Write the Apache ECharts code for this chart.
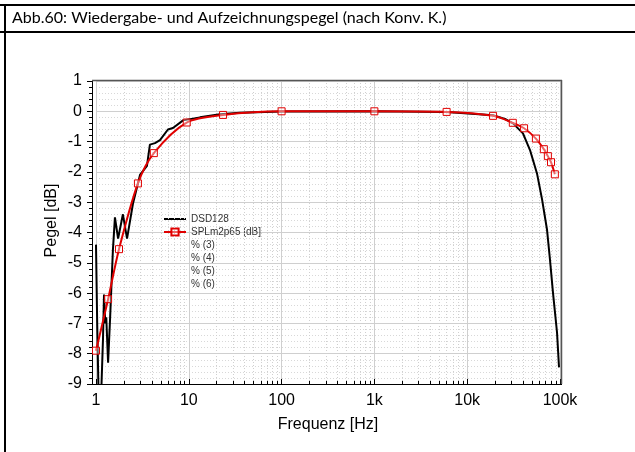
<!DOCTYPE html>
<html><head><meta charset="utf-8">
<script src="https://cdn.jsdelivr.net/npm/echarts@6/dist/echarts.min.js"></script>
<style>html,body{margin:0;padding:0;background:#fff}#c{width:635px;height:452px}</style>
</head><body><div id="c"></div>
<script>
const chartTitle = 'Abb.60: Wiedergabe- und Aufzeichnungspegel (nach Konv. K.)';
const seriesNames = ['DSD128', 'SPLm2p65 [dB]', '% (3)', '% (4)', '% (5)', '% (6)'];
const xTickValues = [1, 10, 100, 1000, 10000, 100000];
const xTickLabels = ['1', '10', '100', '1k', '10k', '100k'];
const minorMultipliers = [2, 3, 4, 5, 6, 7, 8, 9];

const dsdFreq = [1.0, 1.03, 1.07, 1.13, 1.19, 1.22, 1.26, 1.29, 1.35, 1.42, 1.52, 1.60, 1.73, 1.95, 2.16, 2.5, 2.98, 3.54, 3.81, 4.32, 4.89, 5.96, 6.75, 8.67, 13.2, 21.7, 35.6, 100, 1000, 6000, 19000, 25500, 31200, 39900, 47500, 56500, 64000, 72400, 78000, 84100, 92900, 97600];
const dsdLevel = [-4.4, -7.0, -9.6, -9.6, -7.5, -6.05, -7.0, -6.8, -8.3, -6.8, -4.6, -3.5, -4.2, -3.4, -4.2, -3.05, -2.1, -1.8, -1.1, -1.05, -0.95, -0.6, -0.55, -0.3, -0.2, -0.1, -0.05, -0.01, 0, -0.02, -0.13, -0.25, -0.4, -0.73, -1.28, -2.05, -2.9, -3.9, -4.9, -6.0, -7.3, -8.45];

const splFreq = [1, 1.35, 1.77, 2.83, 4.2, 9.5, 23.4, 100, 1000, 6000, 19000, 31000, 41000, 55000, 67000, 74000, 80000, 88000];
const splLevel = [-7.9, -6.2, -4.55, -2.38, -1.38, -0.37, -0.12, 0, 0, -0.02, -0.15, -0.38, -0.56, -0.9, -1.25, -1.48, -1.68, -2.08];

const chart = echarts.init(document.getElementById('c'), null, {renderer: 'canvas'});

const minorX = [];
for (let d = 0; d < 5; d++) {
  for (const m of minorMultipliers) minorX.push(m * Math.pow(10, d));
}
const font = '"Liberation Sans", Arial, sans-serif';

const option = {
  backgroundColor: '#fff',
  animation: false,
  grid: {left: 96, right: 75, top: 81, bottom: 68, containLabel: false},
  xAxis: {
    type: 'log', logBase: 10, min: 1, max: 100000,
    name: 'Frequenz [Hz]', nameLocation: 'middle', nameGap: 33, nameMoveOverlap: false,
    nameTextStyle: {fontFamily: font, fontSize: 16, color: '#000'},
    axisLine: {show: true, onZero: false, lineStyle: {color: '#000', width: 1}},
    axisTick: {show: true, inside: true, length: 5, lineStyle: {color: '#000'}},
    axisLabel: {fontFamily: font, fontSize: 16, color: '#000', margin: 9,
      formatter: v => { const i = xTickValues.indexOf(Math.round(v)); return i >= 0 ? xTickLabels[i] : ''; }},
    splitLine: {show: true, lineStyle: {color: '#cfcfcf', width: 1}}
  },
  yAxis: {
    type: 'value', min: -9, max: 1, interval: 1, offset: 4,
    name: 'Pegel [dB]', nameLocation: 'middle', nameGap: 32, nameMoveOverlap: false,
    nameTextStyle: {fontFamily: font, fontSize: 16, color: '#000', padding: [0, 0, 0, 24]},
    axisLine: {show: true, onZero: false, lineStyle: {color: '#000', width: 1}},
    axisTick: {show: true, length: 5, lineStyle: {color: '#000'}},
    minorTick: {show: true, splitNumber: 5, length: 3, lineStyle: {color: '#000'}},
    axisLabel: {fontFamily: font, fontSize: 16, color: '#000', margin: 10},
    splitLine: {show: true, lineStyle: {color: '#cfcfcf', width: 1}},
    minorSplitLine: {show: true, lineStyle: {color: '#d8d8d8', width: 1, type: [1, 2]}}
  },
  legend: {
    orient: 'vertical', left: 163, top: 214, padding: 0,
    itemWidth: 22, itemHeight: 9, itemGap: 3,
    textStyle: {fontFamily: font, fontSize: 10, lineHeight: 10, color: '#333'},
    data: seriesNames.map((n, i) => i === 0 ? {name: n, itemStyle: {opacity: 0}, lineStyle: {color: '#000', width: 2, opacity: 1}} :
      i === 1 ? {name: n} :
      {name: n, itemStyle: {opacity: 0}, lineStyle: {opacity: 0}})
  },
  series: [
    {
      name: '_minorgrid', type: 'line', data: [], z: 0, silent: true,
      markLine: {silent: true, symbol: 'none', label: {show: false},
        lineStyle: {color: '#d0d0d0', width: 1, type: [1, 2]},
        data: minorX.map(v => ({xAxis: v}))}
    },
    {
      name: '_minorticks', type: 'line', data: [], z: 3, silent: true,
      markLine: {silent: true, symbol: 'none', label: {show: false},
        lineStyle: {color: '#000', width: 1, type: 'solid'},
        data: minorX.map(v => [{coord: [v, -9]}, {coord: [v, -8.9]}])}
    },
    {
      name: seriesNames[0], type: 'line', showSymbol: false, symbol: 'none',
      data: dsdFreq.map((f, i) => [f, dsdLevel[i]]),
      lineStyle: {color: '#000', width: 2}, itemStyle: {color: '#000'}, z: 5
    },
    {
      name: seriesNames[1], type: 'line', symbol: 'rect', symbolSize: 7, smooth: 0.3,
      data: splFreq.map((f, i) => [f, splLevel[i]]),
      lineStyle: {color: '#e00000', width: 2},
      itemStyle: {color: 'rgba(255,255,255,0.4)', borderColor: '#e00000', borderWidth: 1}, z: 6
    },
    ...seriesNames.slice(2).map(n => ({name: n, type: 'line', data: [], symbol: 'none',
      lineStyle: {opacity: 0}, itemStyle: {opacity: 0}}))
  ],
  graphic: [
    {type: 'line', shape: {x1: 0, y1: 5, x2: 635, y2: 5}, style: {stroke: '#000', lineWidth: 2}},
    {type: 'line', shape: {x1: 0, y1: 32, x2: 635, y2: 32}, style: {stroke: '#000', lineWidth: 2}},
    {type: 'line', shape: {x1: 5, y1: 4, x2: 5, y2: 452}, style: {stroke: '#000', lineWidth: 2}},
    {type: 'text', left: 12, top: 10, style: {text: chartTitle, font: '16px Lato, "Open Sans", sans-serif', fill: '#000'}},
    {type: 'line', shape: {x1: 92, y1: 80.5, x2: 562, y2: 80.5}, style: {stroke: '#555', lineWidth: 1.5}, z: 10},
    {type: 'line', shape: {x1: 561.5, y1: 80, x2: 561.5, y2: 384}, style: {stroke: '#555', lineWidth: 1.5}, z: 10},
    {type: 'line', shape: {x1: 92, y1: 384.5, x2: 562, y2: 384.5}, style: {stroke: '#000', lineWidth: 1}, z: 10}
  ]
};
chart.setOption(option);
</script></body></html>
